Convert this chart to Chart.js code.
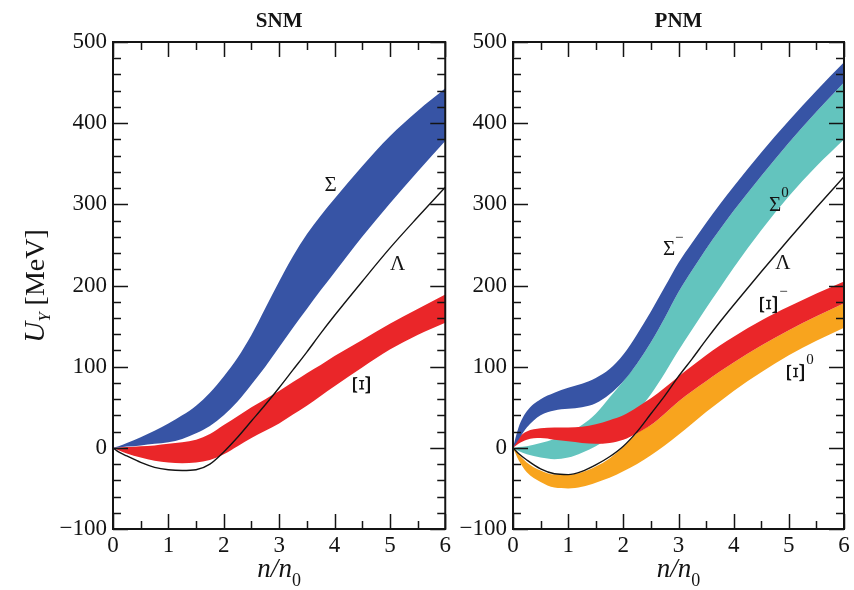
<!DOCTYPE html>
<html><head><meta charset="utf-8">
<script src="https://cdn.jsdelivr.net/npm/chart.js@4/dist/chart.umd.min.js"></script>
<style>
html,body{margin:0;padding:0;background:#fff;}
#wrap{position:relative;width:854px;height:590px;overflow:hidden;}
canvas{position:absolute;top:0;}
</style></head><body>
<div id="wrap">
<canvas id="c1" width="454" height="590" style="left:0px"></canvas>
<canvas id="c2" width="400" height="590" style="left:454px"></canvas>
</div>
<script>
// ---------- data ----------
const density = [0, 0.1, 0.25, 0.5, 0.75, 1, 1.25, 1.5, 1.75, 2, 2.25, 2.5, 2.75, 3, 3.25, 3.5, 3.75, 4, 4.5, 5, 5.5, 6];

// SNM panel
const snmSigmaUpper = [0, 2, 6, 13, 21, 30, 40, 52, 68, 88, 111, 139, 172, 205, 236, 263, 286, 307, 347, 384, 415, 443];
const snmSigmaLower = [0, 0.5, 1.5, 3, 5, 7, 11, 18, 27, 40, 57, 78, 100, 124, 148, 171, 194, 216, 260, 301, 340, 378];
const snmXiUpper    = [0, 0.3, 1, 2, 3, 5, 7, 10, 17, 28, 39, 50, 60, 70, 81, 92, 102, 113, 133, 153, 171, 189];
const snmXiLower    = [0, -3, -7, -12, -16, -18, -19, -18, -15, -8, 2, 12, 21, 30, 41, 52, 64, 76, 99, 121, 139, 154];
const snmLambda     = [0, -5, -10, -18, -24, -27, -28, -27, -20, -5, 13, 33, 53, 74, 96, 118, 141, 163, 205, 246, 284, 321];

// PNM panel
const pnmSigmaMUpper = [0, 25, 45, 60, 68, 74, 79, 86, 97, 115, 140, 168, 198, 228, 253, 277, 300, 322, 364, 403, 440, 475];
const pnmSigmaMLower = [0, 10, 25, 40, 46, 48, 50, 55, 66, 82, 104, 130, 160, 192, 219, 245, 269, 292, 335, 376, 414, 450];
const pnmSigma0Upper = [0, 1, 2, 6, 11, 18, 28, 42, 62, 82, 104, 130, 160, 192, 219, 245, 269, 292, 335, 376, 414, 450];
const pnmSigma0Lower = [0, -4, -8, -12, -14, -12, -6, 2, 12, 26, 44, 66, 92, 120, 146, 172, 197, 222, 268, 310, 347, 380];
const pnmXiMUpper    = [0, 12, 20, 24, 25, 25, 26, 29, 34, 40, 50, 61, 74, 88, 101, 114, 126, 137, 157, 174, 190, 205];
const pnmXiMLower    = [0, 5, 10, 12, 10, 8, 6, 5, 6, 10, 18, 28, 42, 57, 70, 82, 94, 105, 126, 145, 162, 178];
const pnmXi0Upper    = [0, -8, -18, -28, -33, -33, -30, -23, -13, 1, 18, 28, 42, 57, 70, 82, 94, 105, 126, 145, 162, 178];
const pnmXi0Lower    = [0, -15, -30, -42, -49, -50, -48, -43, -37, -29, -20, -9, 3, 16, 30, 44, 57, 70, 93, 114, 132, 148];
const pnmLambda      = [0, -7, -15, -26, -32, -33, -29, -21, -11, 2, 20, 42, 64, 88, 110, 133, 155, 176, 217, 257, 296, 334];

// axes
const xMin = 0, xMax = 6, xMajor = 1, xMinor = 0.5;
const yMin = -100, yMax = 500, yMajor = 100, yMinor = 20;
const panelTitles = ['SNM', 'PNM'];

// curve labels [text, superscript, x, y, rotated]
const snmLabels = [['Σ', '', 3.93, 325, false], ['Λ', '', 5.14, 227, false], ['Ξ', '', 4.50, 76, true]];
const pnmLabels = [['Σ', '−', 2.83, 245, false], ['Σ', '0', 4.75, 300, false], ['Λ', '', 4.89, 228, false],
                   ['Ξ', '−', 4.65, 175, true], ['Ξ', '0', 5.13, 91, true]];

// ---------- styles ----------
const BLUE = 'rgb(55,84,165)', TEAL = 'rgb(99,196,190)', RED = 'rgb(234,38,41)', ORANGE = 'rgb(248,164,30)';
const INK = '#141414';

function pickSerif() {
  const c = document.createElement('canvas').getContext('2d');
  const test = '500 MeV SNM n/n';
  c.font = '40px monospace';
  const base = c.measureText(test).width;
  for (const f of ['Liberation Serif', 'Times New Roman', 'Tinos', 'Nimbus Roman', 'Times']) {
    c.font = '40px "' + f + '", monospace';
    if (Math.abs(c.measureText(test).width - base) > 0.5) return '"' + f + '", serif';
  }
  return '"DejaVu Serif Condensed", "DejaVu Serif", serif';
}
const SERIF = pickSerif();

const xy = (ys) => density.map((x, i) => ({x, y: ys[i]}));
function band(up, lo, color) {
  return [
    {data: xy(up), fill: '+1', backgroundColor: color, borderColor: 'rgba(0,0,0,0)', borderWidth: 0.5, pointRadius: 0, cubicInterpolationMode: 'monotone'},
    {data: xy(lo), fill: false, backgroundColor: color, borderColor: 'rgba(0,0,0,0)', borderWidth: 0.5, pointRadius: 0, cubicInterpolationMode: 'monotone'}
  ];
}
function line(ys) {
  return {data: xy(ys), fill: false, borderColor: INK, borderWidth: 1.4, pointRadius: 0, cubicInterpolationMode: 'monotone'};
}

const frameTicks = {
  id: 'frameTicks',
  afterDatasetsDraw(chart) {
    const {ctx, chartArea: a, scales: {x, y}} = chart;
    ctx.save();
    ctx.strokeStyle = INK;
    ctx.lineWidth = 1.5;
    ctx.beginPath();
    for (let v = yMin; v <= yMax + 1e-9; v += yMinor) {
      const p = Math.round(y.getPixelForValue(v)) + 0.5;
      const L = Math.abs(v % yMajor) < 1e-9 ? 15 : 8;
      ctx.moveTo(a.left, p); ctx.lineTo(a.left + L, p);
      ctx.moveTo(a.right, p); ctx.lineTo(a.right - L, p);
    }
    for (let v = xMin; v <= xMax + 1e-9; v += xMinor) {
      const p = Math.round(x.getPixelForValue(v)) + 0.5;
      const L = Math.abs(v % xMajor) < 1e-9 ? 15 : 8;
      ctx.moveTo(p, a.bottom); ctx.lineTo(p, a.bottom - L);
      ctx.moveTo(p, a.top); ctx.lineTo(p, a.top + L);
    }
    ctx.stroke();
    ctx.lineWidth = 2;
    ctx.strokeRect(a.left, a.top, a.right - a.left, a.bottom - a.top);
    ctx.restore();
  }
};

function drawPieces(ctx, pieces, cx, baseY) {
  let total = 0;
  pieces.forEach(p => { ctx.font = p.font; p.w = ctx.measureText(p.t).width; total += p.w; });
  let cur = cx - total / 2;
  pieces.forEach(p => { ctx.font = p.font; ctx.fillText(p.t, cur, baseY + (p.dy || 0)); cur += p.w; });
}

function textPlugin(title, labels, showYTitle) {
  return {
    id: 'texts',
    afterDraw(chart) {
      const {ctx, chartArea: a, scales: {x, y}} = chart;
      ctx.save();
      ctx.fillStyle = INK;
      ctx.textBaseline = 'alphabetic';
      ctx.textAlign = 'left';
      const cx = (a.left + a.right) / 2;
      drawPieces(ctx, [{t: title, font: 'bold 21px ' + SERIF}], cx, 27);
      drawPieces(ctx, [{t: 'n/n', font: 'italic 27px ' + SERIF}, {t: '0', font: '18px ' + SERIF, dy: 9}], cx, 577);
      if (showYTitle) {
        ctx.save();
        ctx.translate(44, 286);
        ctx.rotate(-Math.PI / 2);
        drawPieces(ctx, [{t: 'U', font: 'italic 29px ' + SERIF}, {t: 'Y', font: 'italic 17px ' + SERIF, dy: 6},
                         {t: ' [MeV]', font: '28px ' + SERIF}], 0, 0);
        ctx.restore();
      }
      labels.forEach(([t, sup, lx, ly, rot]) => {
        const px = x.getPixelForValue(lx), py = y.getPixelForValue(ly);
        ctx.save();
        ctx.font = (rot ? '25px ' : '21px ') + SERIF;
        ctx.textAlign = 'center';
        ctx.textBaseline = 'middle';
        ctx.translate(px, py);
        if (rot) { ctx.rotate(-Math.PI / 2); ctx.scale(1.3, 1); }
        ctx.fillText(t, rot ? 1 : 0, 1);
        ctx.restore();
        if (sup) {
          ctx.save();
          ctx.font = '15px ' + SERIF;
          ctx.textAlign = 'center';
          ctx.textBaseline = 'middle';
          ctx.fillText(sup, px + (rot ? 14 : 10), py - (rot ? 14 : 11));
          ctx.restore();
        }
      });
      ctx.restore();
    }
  };
}

function makeChart(id, datasets, title, labels, yWidth, padRight, showYTitle) {
  return new Chart(document.getElementById(id), {
    type: 'line',
    data: {datasets},
    options: {
      responsive: false, animation: false, devicePixelRatio: 1,
      layout: {padding: {top: 42, right: padRight, left: 0, bottom: 0}},
      plugins: {legend: {display: false}, tooltip: {enabled: false}, filler: {propagate: false}},
      scales: {
        x: {type: 'linear', min: xMin, max: xMax,
            grid: {display: false, drawTicks: false}, border: {display: false},
            ticks: {stepSize: xMajor, autoSkip: false, maxRotation: 0, padding: 3, color: INK, font: {family: SERIF, size: 23}},
            afterFit(s) { s.height = 61; }},
        y: {type: 'linear', min: yMin, max: yMax,
            grid: {display: false, drawTicks: false}, border: {display: false},
            ticks: {stepSize: yMajor, autoSkip: false, padding: 6, color: INK, font: {family: SERIF, size: 23},
                    callback: v => (v < 0 ? '\u2212' + Math.abs(v) : String(v))},
            afterFit(s) { s.width = yWidth; }}
      }
    },
    plugins: [frameTicks, textPlugin(title, labels, showYTitle)]
  });
}

makeChart('c1', [
  line(snmLambda),
  ...band(snmSigmaUpper, snmSigmaLower, BLUE),
  ...band(snmXiUpper, snmXiLower, RED)
], panelTitles[0], snmLabels, 113, 8, true);

makeChart('c2', [
  line(pnmLambda),
  ...band(pnmSigmaMUpper, pnmSigmaMLower, BLUE),
  ...band(pnmXiMUpper, pnmXiMLower, RED),
  ...band(pnmSigma0Upper, pnmSigma0Lower, TEAL),
  ...band(pnmXi0Upper, pnmXi0Lower, ORANGE)
], panelTitles[1], pnmLabels, 59, 10, false);
</script>
</body></html>
